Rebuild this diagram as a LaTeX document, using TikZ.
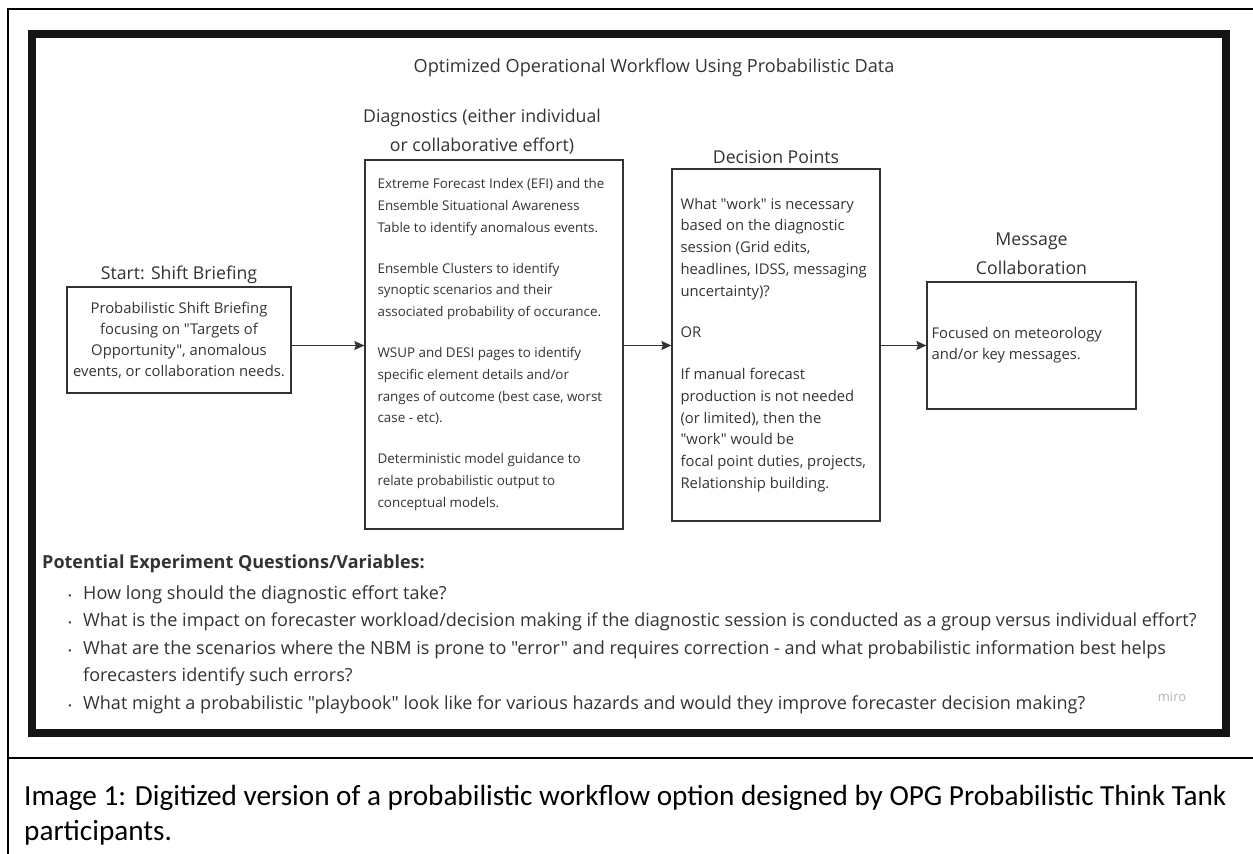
\documentclass[tikz,border=0pt]{standalone}
\usepackage{fontspec}
\setmainfont{Open Sans}[Ligatures=TeXOff]
\newfontfamily\captionfont{Carlito}
\usetikzlibrary{positioning, arrows.meta}
\definecolor{ink}{HTML}{333333}
\definecolor{logo}{HTML}{B4B4B4}
\tikzset{
  >={Stealth[length=10pt, width=9pt, inset=1.5pt]}, % filled arrow heads
  box/.style={draw=ink, line width=1.3pt, inner sep=0pt}, % the four stage boxes
  note/.style={text=ink, align=left, inner sep=0pt}, % text written inside a box
  stage/.style={text=ink, align=center, inner sep=0pt, font=\fontsize{17.7}{29}\selectfont}, % headings above the boxes
  flow/.style={->, draw=ink, line width=1.3pt}, % arrows between the stages
}

\begin{document}
\begin{tikzpicture}[x=1pt, y=-1pt]
  \useasboundingbox (0,0) rectangle (1253,854);
  % page frame and board frame
  \draw[line width=2pt] (1253,9) -- (8,9) -- (8,854);
  \draw[line width=2pt] (8,758) -- (1253,758);
  \draw[line width=7.5pt, black!92] (32,34) rectangle (1226,733);

  \node[text=ink, font=\fontsize{18.1}{20}\selectfont] (title) at (654,68) {Optimized Operational Workflow Using Probabilistic Data};

  % stages
  \node[box, text=ink, align=center, font=\fontsize{14.8}{21}\selectfont, minimum width=224pt, minimum height=106pt] (start) at (179,340)
    {Probabilistic Shift Briefing\\ focusing on "Targets of\\ Opportunity", anomalous\\ events, or collaboration needs.};
  \node[box, minimum width=258pt, minimum height=369pt] (diag) at (494,344.5) {};
  \node[box, minimum width=208pt, minimum height=352pt] (decision) at (776,345) {};
  \node[box, minimum width=209pt, minimum height=127pt] (message) at (1031.5,345.5) {};

  \node[note, font=\fontsize{13.4}{21.7}\selectfont, right=13pt of diag.west] (diagtext)
    {Extreme Forecast Index (EFI) and the\\
     Ensemble Situational Awareness\\
     Table to identify anomalous events.\\[19.3pt]
     Ensemble Clusters to identify\\
     synoptic scenarios and their\\
     associated probability of occurance.\\[19.3pt]
     WSUP and DESI pages to identify\\
     specific element details and/or\\
     ranges of outcome (best case, worst\\
     case - etc).\\[19.3pt]
     Deterministic model guidance to\\
     relate probabilistic output to\\
     conceptual models.};
  \node[note, font=\fontsize{14.8}{21.75}\selectfont, right=9pt of decision.west] (decisiontext)
    {What "work" is necessary\\
     based on the diagnostic\\
     session (Grid edits,\\
     headlines, IDSS, messaging\\
     uncertainty)?\\[20pt]
     OR\\[20pt]
     If manual forecast\\
     production is not needed\\
     (or limited), then the\\
     "work" would be\\
     focal point duties, projects,\\
     Relationship building.};
  \node[note, font=\fontsize{14.8}{21}\selectfont, right=5pt of message.west] (messagetext)
    {Focused on meteorology\\ and/or key messages.};

  % headings
  \node[stage, above=2pt of start] (starthead) {Start: Shift Briefing};
  \node[stage, above=5pt of diag, xshift=-12pt] (diaghead) {Diagnostics (either individual\\ or collaborative effort)};
  \node[stage, above=4pt of decision] (decisionhead) {Decision Points};
  \node[stage, above=6pt of message] (messagehead) {Message\\ Collaboration};

  \path
    (start.east |- message.west) edge[flow] (diag.west |- message.west)
    (diag.east |- message.west) edge[flow] (decision.west |- message.west)
    (decision.east |- message.west) edge[flow] (message.west);

  % questions
  \node[anchor=west, text=ink, inner sep=0pt, font=\bfseries\fontsize{18}{20}\selectfont] (qhead) at (42,564)
    {Potential Experiment Questions/Variables:};
  \node[anchor=north west, align=left, text=ink, inner sep=0pt, font=\fontsize{18.05}{27.5}\selectfont] (questions) at (68,585)
    {\makebox[15pt][l]{\fontsize{10}{10}\selectfont\textbullet}How long should the diagnostic effort take?\\
     \makebox[15pt][l]{\fontsize{10}{10}\selectfont\textbullet}What is the impact on forecaster workload/decision making if the diagnostic session is conducted as a group versus individual effort?\\
     \makebox[15pt][l]{\fontsize{10}{10}\selectfont\textbullet}What are the scenarios where the NBM is prone to "error" and requires correction - and what probabilistic information best helps\\
     \hspace*{15pt}forecasters identify such errors?\\
     \makebox[15pt][l]{\fontsize{10}{10}\selectfont\textbullet}What might a probabilistic "playbook" look like for various hazards and would they improve forecaster decision making?};
  \node[text=logo, inner sep=0pt, font=\fontsize{13}{13}\selectfont] (miro) at (1172,697) {miro};

  \node[anchor=north west, align=left, inner sep=0pt, font=\captionfont\fontsize{29.2}{35}\selectfont] (caption) at (24,785)
    {Image 1: Digitized version of a probabilistic workflow option designed by OPG Probabilistic Think Tank\\ participants.};
\end{tikzpicture}
\end{document}
